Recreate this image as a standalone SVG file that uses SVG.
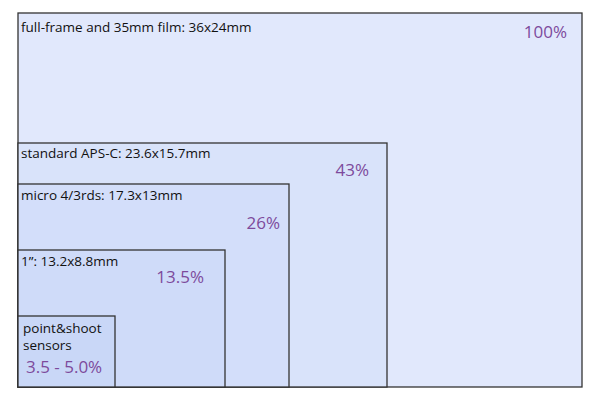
<svg xmlns="http://www.w3.org/2000/svg" width="600" height="400" viewBox="0 0 600 400">
<style>
.b{stroke:#333;stroke-width:1.3}
.l{font-family:"Open Sans","DejaVu Sans",sans-serif;font-size:13.5px;fill:#111}
.p{font-family:"Open Sans","DejaVu Sans",sans-serif;font-size:17px;fill:#7d4a9c}
</style>
<rect width="600" height="400" fill="#fff"/>
<g id="full-frame">
<rect class="b" x="18" y="13" width="564" height="374" fill="#e1e8fc"/>
<text class="l" x="21" y="32">full-frame and 35mm film: 36x24mm</text>
<text class="p" x="567" y="38" text-anchor="end">100%</text>
</g>
<g id="aps-c">
<rect class="b" x="18" y="143" width="369" height="244" fill="#d9e3fa"/>
<text class="l" x="21" y="158">standard APS-C: 23.6x15.7mm</text>
<text class="p" x="369" y="176" text-anchor="end">43%</text>
</g>
<g id="micro43">
<rect class="b" x="18" y="184" width="271" height="203" fill="#d3defa"/>
<text class="l" x="21" y="200">micro 4/3rds: 17.3x13mm</text>
<text class="p" x="280" y="229" text-anchor="end">26%</text>
</g>
<g id="one-inch">
<rect class="b" x="18" y="250" width="207" height="137" fill="#cfdbf9"/>
<text class="l" x="21" y="266">1”: 13.2x8.8mm</text>
<text class="p" x="204" y="283" text-anchor="end">13.5%</text>
</g>
<g id="point-shoot">
<rect class="b" x="18" y="316" width="97" height="71" fill="#c9d7f7"/>
<text class="l" x="23" y="333">point&amp;shoot</text>
<text class="l" x="23" y="350">sensors</text>
<text class="p" x="26" y="373">3.5 - 5.0%</text>
</g>
</svg>
